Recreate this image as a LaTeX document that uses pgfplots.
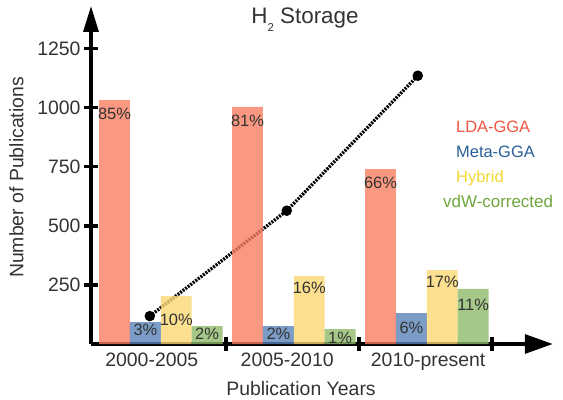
\documentclass[border=0pt]{standalone}
\usepackage{pgfplots}
\pgfplotsset{compat=1.18}
\usepackage{pgfplotstable}
\usepackage{fontspec}
\setmainfont{Liberation Sans}
\usetikzlibrary{arrows.meta,calc}

\definecolor{cLDA}{RGB}{249,126,99}
\definecolor{cMeta}{RGB}{89,131,184}
\definecolor{cHyb}{RGB}{251,216,115}
\definecolor{cVdw}{RGB}{143,186,106}
\definecolor{tLDA}{RGB}{240,85,65}
\definecolor{tMeta}{RGB}{40,95,150}
\definecolor{tHyb}{RGB}{245,215,50}
\definecolor{tVdw}{RGB}{110,165,60}
\definecolor{txt}{RGB}{51,51,51}

% x = group, y = publications, p = percentage label, s = label offset below bar top (bp)
\pgfplotstableread{
x y p s
0 1032 85 8
1 1003 81 8
2 740 66 8
}\lda
\pgfplotstableread{
x y p s
0 93 3 2
1 76 2 2
2 131 6 9
}\meta
\pgfplotstableread{
x y p s
0 203 10 18
1 288 16 6
2 313 17 6
}\hyb
\pgfplotstableread{
x y p s
0 76 2 2
1 63 1 3
2 233 11 10
}\vdw

\pgfplotsset{
  barstyle/.style={ybar, bar width=0.232, draw=none, fill opacity=0.8,
    bar shift=#1,
    visualization depends on={\thisrow{p}\as\pct},
    visualization depends on={\thisrow{s}\as\sh},
    nodes near coords={\pgfmathprintnumber[assume math mode=true]{\pct}\%},
    every node near coord/.append style={anchor=north, inner sep=0pt,
      xshift=#1*133bp,
      yshift=-\sh bp, text opacity=1, fill opacity=1, text=txt,
      font=\fontsize{16.5}{18}\selectfont}},
}

\begin{document}
\begin{tikzpicture}
\begin{axis}[
  scale only axis, width=461.8bp, height=338bp,
  xmin=-0.525, xmax=2.947, ymin=0, ymax=1430,
  axis x line=bottom, axis y line=left,
  axis line style={line width=3.3bp, black},
  x axis line style={-{Triangle[length=28bp,width=19bp]}},
  y axis line style={-{Triangle[length=26bp,width=15bp]}},
  ytick={250,500,750,1000,1250},
  xtick={0.49,1.49,2.49}, xticklabels={},
  extra x ticks={-0.068,0.95,2.01},
  extra x tick labels={2000-2005,2005-2010,2010-present},
  extra x tick style={major tick length=0pt},
  tick align=center, major tick length=14bp,
  tick style={line width=3.5bp, black},
  tick label style={font=\fontsize{19.5}{22}\selectfont, text=txt},
  xticklabel style={yshift=-5bp},
  /pgf/number format/assume math mode=true,
  /pgf/number format/1000 sep={},
  clip=false,
]
\coordinate (O) at (axis cs:-0.525,0);
\addplot[line width=3.3bp, black, dash pattern=on 2bp off 1.2bp,
  mark=*, mark size=3.5bp, mark options={solid}]
  coordinates {(-0.083,118) (0.947,564) (1.932,1135)};
\addplot[barstyle=-0.348, fill=cLDA] table[x=x,y=y] {\lda};
\addplot[barstyle=-0.116, fill=cMeta] table[x=x,y=y] {\meta};
\addplot[barstyle=0.116, fill=cHyb] table[x=x,y=y] {\hyb};
\addplot[barstyle=0.348, fill=cVdw] table[x=x,y=y] {\vdw};
\end{axis}
\begin{scope}[shift={($(O)+(-91bp,-56bp)$)}, x=1bp, y=1bp]
  \node[anchor=base, text=txt, font=\fontsize{22.5}{25}\selectfont] at (305,376.7)
    {H\raisebox{-0.35em}{\fontsize{11.5}{12}\selectfont 2} Storage};
  \node[rotate=90, text=txt, font=\fontsize{19.5}{22}\selectfont] at (16.5,222.5)
    {Number of Publications};
  \node[text=txt, font=\fontsize{19.5}{22}\selectfont] at (301,11.5)
    {Publication Years};
  \node[anchor=base west, text=tLDA, font=\fontsize{16.5}{18}\selectfont, inner sep=0pt] at (456,268) {LDA-GGA};
  \node[anchor=base west, text=tMeta, font=\fontsize{16.5}{18}\selectfont, inner sep=0pt] at (456,242.5) {Meta-GGA};
  \node[anchor=base west, text=tHyb, font=\fontsize{16.5}{18}\selectfont, inner sep=0pt] at (456,217.5) {Hybrid};
  \node[anchor=base west, text=tVdw, font=\fontsize{17}{18}\selectfont, inner sep=0pt] at (443,192.5) {vdW-corrected};
\end{scope}
\pgfresetboundingbox
\path[use as bounding box] ($(O)+(-91bp,-56bp)$) rectangle ++(563bp,400bp);
\end{tikzpicture}
\end{document}
